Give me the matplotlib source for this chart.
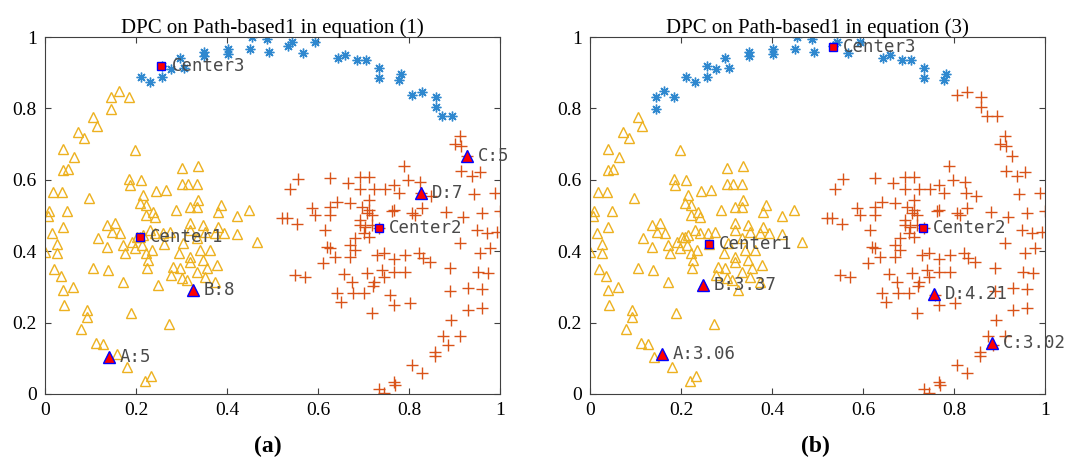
import matplotlib
matplotlib.use("Agg")
import matplotlib.pyplot as plt
import numpy as np

# ---------------- data (Path-based1, normalised) ----------------
# arc points that are stars in both panels
arc_top_x = [0.211, 0.231, 0.258, 0.258, 0.278, 0.297, 0.305, 0.350, 0.350, 0.402, 0.402,
             0.451, 0.456, 0.487, 0.493, 0.535, 0.542, 0.568, 0.593, 0.645, 0.659, 0.685,
             0.705, 0.734, 0.734, 0.777, 0.782]
arc_top_y = [0.887, 0.875, 0.889, 0.919, 0.909, 0.942, 0.912, 0.959, 0.947, 0.966, 0.953,
             0.965, 1.000, 0.993, 0.959, 0.974, 0.987, 0.954, 0.987, 0.940, 0.950, 0.936,
             0.936, 0.914, 0.884, 0.880, 0.896]
# arc points: triangles in (a), stars in (b)
arc_left_x = [0.145, 0.145, 0.163, 0.184]
arc_left_y = [0.798, 0.831, 0.850, 0.833]
# arc points: stars in (a), crosses in (b)
arc_right_x = [0.807, 0.829, 0.859, 0.859, 0.872, 0.894]
arc_right_y = [0.838, 0.847, 0.833, 0.803, 0.779, 0.779]
# left cluster + left outer arc (triangles in both)
left_x = [0.106, 0.114, 0.072, 0.086, 0.040, 0.064, 0.039, 0.051, 0.198, 0.018, 0.037, 0.097,
          0.185, 0.187, 0.211, 0.009, 0.048, 0.216, 0.209, 0.223, 0.238, 0.245, 0.266, 0.300,
          0.337, 0.300, 0.314, 0.333, 0.337, 0.319, 0.288, 0.333, 0.387, 0.381, 0.421, 0.449,
          0.007, 0.039, 0.015, 0.026, 0.026, 0.000, 0.020, 0.035, 0.040, 0.062, 0.042, 0.092,
          0.092, 0.079, 0.112, 0.128, 0.141, 0.159, 0.180, 0.220, 0.232, 0.188, 0.273, 0.106,
          0.139, 0.172, 0.117, 0.136, 0.137, 0.154, 0.147, 0.165, 0.172, 0.176, 0.191, 0.202,
          0.216, 0.198, 0.213, 0.223, 0.227, 0.225, 0.235, 0.231, 0.242, 0.223, 0.242, 0.260,
          0.275, 0.282, 0.297, 0.278, 0.300, 0.311, 0.333, 0.348, 0.355, 0.352, 0.374, 0.377,
          0.319, 0.319, 0.341, 0.363, 0.333, 0.319, 0.319, 0.348, 0.352, 0.374, 0.381, 0.393,
          0.421, 0.465, 0.294, 0.303, 0.325, 0.249, 0.262, 0.209]
left_y = [0.775, 0.751, 0.735, 0.716, 0.685, 0.663, 0.627, 0.631, 0.683, 0.567, 0.565, 0.548,
          0.601, 0.585, 0.599, 0.513, 0.513, 0.557, 0.534, 0.529, 0.511, 0.569, 0.571, 0.634,
          0.639, 0.588, 0.587, 0.587, 0.543, 0.523, 0.515, 0.525, 0.529, 0.511, 0.499, 0.515,
          0.499, 0.467, 0.452, 0.420, 0.394, 0.399, 0.350, 0.331, 0.291, 0.299, 0.249, 0.235,
          0.217, 0.182, 0.144, 0.140, 0.105, 0.112, 0.077, 0.036, 0.050, 0.228, 0.195, 0.352,
          0.347, 0.313, 0.438, 0.413, 0.473, 0.480, 0.455, 0.452, 0.417, 0.394, 0.427, 0.441,
          0.445, 0.408, 0.417, 0.394, 0.375, 0.352, 0.403, 0.459, 0.450, 0.501, 0.497, 0.450,
          0.455, 0.357, 0.352, 0.333, 0.324, 0.319, 0.343, 0.375, 0.352, 0.327, 0.315, 0.361,
          0.385, 0.371, 0.403, 0.403, 0.436, 0.459, 0.478, 0.473, 0.455, 0.450, 0.469, 0.450,
          0.448, 0.427, 0.394, 0.422, 0.291, 0.305, 0.419, 0.439]
# right cluster + right outer arc (crosses in both)
right_x = [0.912, 0.901, 0.914, 0.927, 0.914, 0.938, 0.956, 0.790, 0.797, 0.824, 0.766, 0.779,
           0.747, 0.722, 0.711, 0.692, 0.692, 0.713, 0.667, 0.626, 0.557, 0.538, 0.641, 0.670,
           0.586, 0.626, 0.762, 0.806, 0.828, 0.881, 0.919, 0.960, 0.989, 0.943, 0.848, 0.826,
           1.000, 0.593, 0.626, 0.696, 0.707, 0.711, 0.718, 0.692, 0.692, 0.703, 0.718, 0.700,
           0.681, 0.711, 0.766, 0.813, 0.949, 0.971, 0.993, 0.520, 0.531, 0.553, 0.615, 0.619,
           0.626, 0.670, 0.681, 0.637, 0.612, 0.670, 0.729, 0.744, 0.766, 0.791, 0.821, 0.831,
           0.846, 0.549, 0.571, 0.658, 0.674, 0.707, 0.722, 0.720, 0.740, 0.744, 0.766, 0.791,
           0.641, 0.650, 0.678, 0.700, 0.758, 0.766, 0.802, 0.718, 0.890, 0.911, 0.956, 0.977,
           0.952, 0.974, 0.890, 0.930, 0.961, 0.930, 0.960, 0.892, 0.875, 0.911, 0.886, 0.857,
           0.857, 0.806, 0.828, 0.766, 0.769, 0.733, 0.744, 0.733]
right_y = [0.723, 0.700, 0.695, 0.667, 0.626, 0.611, 0.623, 0.640, 0.599, 0.595, 0.585, 0.562,
           0.573, 0.573, 0.609, 0.607, 0.573, 0.543, 0.592, 0.604, 0.601, 0.573, 0.539, 0.534,
           0.520, 0.525, 0.513, 0.508, 0.520, 0.511, 0.497, 0.508, 0.562, 0.560, 0.555, 0.562,
           0.513, 0.501, 0.501, 0.525, 0.506, 0.515, 0.501, 0.487, 0.473, 0.469, 0.473, 0.450,
           0.436, 0.441, 0.515, 0.501, 0.459, 0.450, 0.455, 0.492, 0.492, 0.476, 0.459, 0.413,
           0.408, 0.417, 0.403, 0.385, 0.368, 0.385, 0.389, 0.396, 0.377, 0.389, 0.394, 0.380,
           0.371, 0.333, 0.329, 0.336, 0.315, 0.340, 0.315, 0.303, 0.347, 0.327, 0.343, 0.343,
           0.282, 0.259, 0.282, 0.282, 0.277, 0.249, 0.254, 0.226, 0.352, 0.422, 0.394, 0.408,
           0.343, 0.340, 0.289, 0.296, 0.293, 0.235, 0.240, 0.207, 0.162, 0.162, 0.137, 0.119,
           0.106, 0.081, 0.060, 0.034, 0.025, 0.013, 0.002, 0.464]

# special points
titles = ["DPC on Path-based1 in equation (1)", "DPC on Path-based1 in equation (3)"]
panel_tags = ["(a)", "(b)"]
center_names = ["Center1", "Center2", "Center3"]
centers_a_x = [0.209, 0.733, 0.256]
centers_a_y = [0.439, 0.464, 0.919]
centers_b_x = [0.262, 0.731, 0.533]
centers_b_y = [0.419, 0.464, 0.971]
pts_a_lbl = ["A:5", "B:8", "C:5", "D:7"]
pts_a_x = [0.141, 0.325, 0.927, 0.826]
pts_a_y = [0.105, 0.291, 0.667, 0.562]
pts_b_lbl = ["A:3.06", "B:3.37", "C:3.02", "D:4.21"]
pts_b_x = [0.158, 0.248, 0.883, 0.757]
pts_b_y = [0.112, 0.305, 0.142, 0.280]
ticks = [0, 0.2, 0.4, 0.6, 0.8, 1]
tick_labels = ["0", "0.2", "0.4", "0.6", "0.8", "1"]

BLUE = "#2F88CF"
ORANGE = "#D95319"
YELLOW = "#EDB120"

plt.rcParams["font.family"] = ["Liberation Serif", "DejaVu Serif"]

fig = plt.figure(figsize=(10.67, 4.63), dpi=100)
ax_a = fig.add_axes([45 / 1067, 1 - 394 / 463, 455 / 1067, 357 / 463])
ax_b = fig.add_axes([590 / 1067, 1 - 394 / 463, 455 / 1067, 357 / 463])

star_marker = (8, 2, 0)


def draw(ax, stars, tris, crosses, cx, cy, px, py, plbl, title):
    ax.plot(stars[0], stars[1], linestyle="none", marker=star_marker, ms=7,
            mec=BLUE, mew=1.0, color=BLUE)
    ax.plot(crosses[0], crosses[1], linestyle="none", marker="+", ms=8,
            mec=ORANGE, mew=1.0)
    ax.plot(tris[0], tris[1], linestyle="none", marker="^", ms=7,
            mfc="none", mec=YELLOW, mew=1.0)
    ax.plot(cx, cy, linestyle="none", marker="s", ms=6, mfc="red", mec="blue", mew=1.0)
    ax.plot(px, py, linestyle="none", marker="^", ms=8, mfc="red", mec="blue", mew=1.0)
    for name, x, y in zip(center_names, cx, cy):
        ax.text(x + 0.022, y, name, family="DejaVu Sans Mono", fontsize=12.5,
                color="#4a4a4a", va="center", ha="left")
    for name, x, y in zip(plbl, px, py):
        ax.text(x + 0.024, y, name, family="DejaVu Sans Mono", fontsize=12.5,
                color="#4a4a4a", va="center", ha="left")
    ax.set_xlim(0, 1)
    ax.set_ylim(0, 1)
    ax.set_xticks(ticks)
    ax.set_xticklabels(tick_labels)
    ax.set_yticks(ticks)
    ax.set_yticklabels(tick_labels)
    ax.tick_params(direction="in", length=4, width=0.8, color="#404040",
                   top=True, right=True, labelsize=14, pad=6)
    for s in ax.spines.values():
        s.set_color("#404040")
        s.set_linewidth(0.8)
    ax.set_title(title, fontsize=15, pad=3)


draw(ax_a,
     (arc_top_x + arc_right_x, arc_top_y + arc_right_y),
     (arc_left_x + left_x, arc_left_y + left_y),
     (right_x, right_y),
     centers_a_x, centers_a_y, pts_a_x, pts_a_y, pts_a_lbl, titles[0])
draw(ax_b,
     (arc_left_x + arc_top_x, arc_left_y + arc_top_y),
     (left_x, left_y),
     (arc_right_x + right_x, arc_right_y + right_y),
     centers_b_x, centers_b_y, pts_b_x, pts_b_y, pts_b_lbl, titles[1])

fig.text(268 / 1067, 1 - 446 / 463, panel_tags[0], fontsize=17, fontweight="bold",
         ha="center", va="center")
fig.text(815 / 1067, 1 - 446 / 463, panel_tags[1], fontsize=17, fontweight="bold",
         ha="center", va="center")

fig.savefig("out.png", dpi=100)
